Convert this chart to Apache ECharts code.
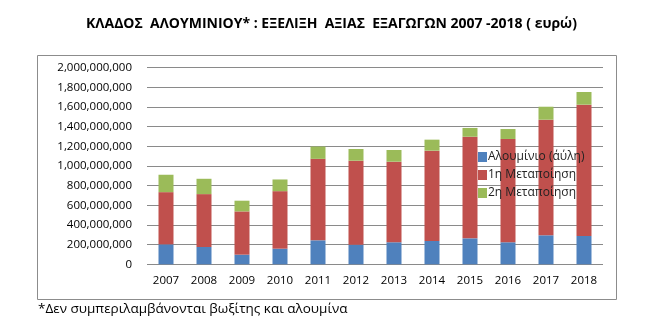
<!DOCTYPE html>
<html><head><meta charset="utf-8">
<script src="https://cdn.jsdelivr.net/npm/echarts@6/dist/echarts.min.js"></script>
<style>html,body{margin:0;padding:0;background:#fff}#c{width:663px;height:323px}</style>
</head><body><div id="c"></div>
<script>
const years = ['2007','2008','2009','2010','2011','2012','2013','2014','2015','2016','2017','2018'];
const seriesNames = ['Αλουμίνιο (α΄ύλη)','1η Μεταποίηση','2η Μεταποίηση'];
const aluminium = [203e6,176e6,98e6,159e6,244e6,200e6,224e6,237e6,264e6,224e6,295e6,288e6];
const firstProc = [531e6,538e6,440e6,585e6,829e6,854e6,820e6,919e6,1034e6,1051e6,1176e6,1336e6];
const secondProc = [177e6,156e6,109e6,119e6,125e6,119e6,119e6,112e6,89e6,101e6,132e6,129e6];
const colors = ['#4F81BD','#C0504D','#9BBB59'];
const font = '"Open Sans", "Noto Sans", sans-serif';

const chart = echarts.init(document.getElementById('c'), null, {renderer:'canvas'});
const mk = (name, data, i) => ({
  name, type:'bar', stack:'s', data, barWidth:15,
  itemStyle:{color:colors[i]}
});
chart.setOption({
  animation:false,
  title:{
    text:'ΚΛΑΔΟΣ  ΑΛΟΥΜΙΝΙΟΥ* : ΕΞΕΛΙΞΗ  ΑΞΙΑΣ  ΕΞΑΓΩΓΩΝ 2007 -2018 ( ευρώ)',
    left:'center', top:12,
    textStyle:{fontFamily:font, fontSize:14, fontWeight:'bold', color:'#000'}
  },
  graphic:[
    {type:'rect', shape:{x:37.5,y:55.5,width:579,height:244}, style:{fill:'none', stroke:'#8c8c8c', lineWidth:1}, z:-1},
    {type:'text', left:38, top:302, style:{text:'*Δεν συμπεριλαμβάνονται βωξίτης και αλουμίνα', font:'13.5px '+font, fill:'#000'}}
  ],
  legend:{
    orient:'vertical', left:473, top:146, itemWidth:9, itemHeight:10, itemGap:6,
    textStyle:{fontFamily:font, fontSize:12, color:'#222', padding:[0,0,0,-4]},
    data:seriesNames.map(n=>({name:n, icon:'rect'}))
  },
  grid:{left:147, right:60, top:67.7, bottom:58.7},
  xAxis:{
    type:'category', data:years,
    axisLine:{show:false}, axisTick:{show:false},
    axisLabel:{fontFamily:font, fontSize:11.5, color:'#000', margin:10}
  },
  yAxis:{
    type:'value', min:0, max:2000000000, interval:200000000,
    axisLine:{show:false}, axisTick:{show:false},
    splitLine:{lineStyle:{color:'#8a8a8a', width:1}},
    axisLabel:{fontFamily:font, fontSize:11.5, color:'#000', margin:15,
      formatter:v=>v.toLocaleString('en-US')}
  },
  series:[mk(seriesNames[0],aluminium,0), mk(seriesNames[1],firstProc,1), mk(seriesNames[2],secondProc,2)]
});
</script></body></html>
